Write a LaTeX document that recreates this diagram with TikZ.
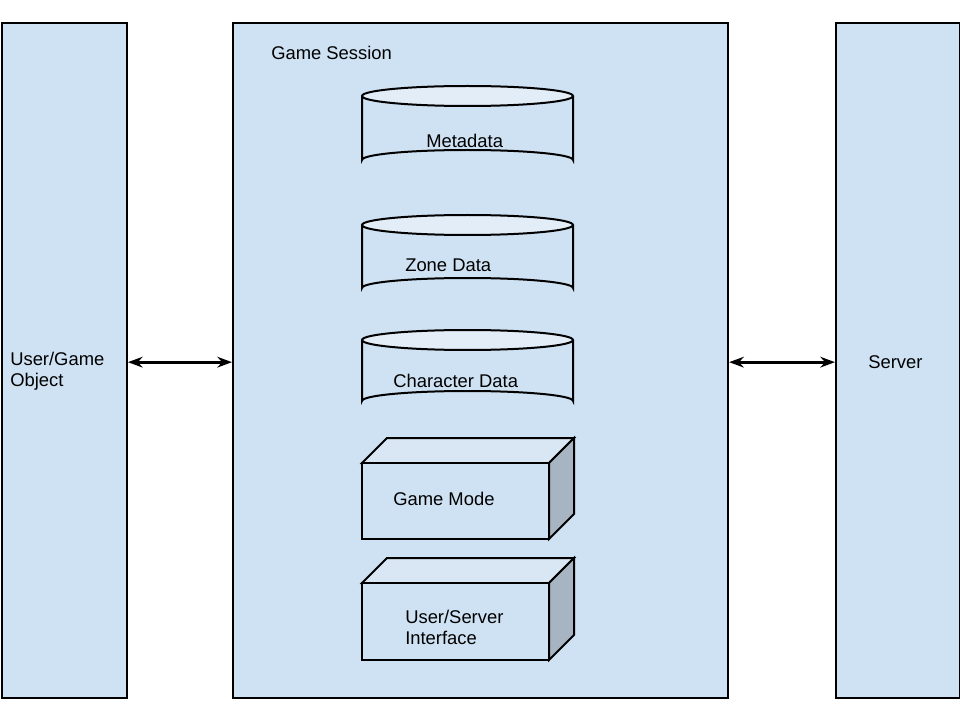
\documentclass[tikz,border=0pt]{standalone}
\usepackage{fontspec}
\setmainfont{Liberation Sans}
\usetikzlibrary{arrows.meta}
\definecolor{boxfill}{HTML}{CFE2F3}
\definecolor{capfill}{HTML}{E2EDF8}
\definecolor{sidefill}{HTML}{A7B5C3}
\definecolor{topfill}{HTML}{D9E7F5}
\tikzset{
  panel/.style={draw=black, line width=1.6pt, fill=boxfill, inner sep=0pt},
  shapeline/.style={draw=black, line width=1.5pt, line join=miter},
  lbl/.style={font=\fontsize{13.8}{15.3}\selectfont, align=left, anchor=base west, inner sep=0pt},
  link/.style={line width=2pt, {Stealth[length=11pt,width=8pt]}-{Stealth[length=11pt,width=8pt]}}
}
\begin{document}
\begin{tikzpicture}[x=0.75pt,y=-0.75pt]
\useasboundingbox (0,0) rectangle (960,720);
% panels
\node[panel, anchor=north west, minimum width=93.75pt, minimum height=506.25pt] (user) at (0.8,22) {};
\node[panel, anchor=north west, minimum width=371.25pt, minimum height=506.25pt] (session) at (232,22) {};
\node[panel, anchor=north west, minimum width=93pt, minimum height=506.25pt] (server) at (835,22) {};
\node[lbl] (usertext) at (10,386) {User/Game\\Object};
\node[lbl] (sessiontext) at (271,60) {Game Session};
\node[lbl] (servertext) at (868,368) {Server};
% cylinders
\foreach \nm/\ty/\by/\txt/\tx/\bl in {meta/96/160/Metadata/426/148, zone/225/288/Zone Data/405/272, chara/340/401/Character Data/393/387}{
  \fill[boxfill] (362,\ty) -- (362,\by) arc[start angle=180,end angle=360,x radius=105.5,y radius=10] -- (573,\ty) -- cycle;
  \draw[shapeline] (362,\ty) -- (362,\by) arc[start angle=180,end angle=360,x radius=105.5,y radius=10] -- (573,\ty);
  \draw[shapeline, fill=capfill] (467.5,\ty) ellipse[x radius=105.5, y radius=10];
  \node[lbl] (\nm) at (\tx,\bl) {\txt};
}
% cubes
\foreach \nm/\ty/\by/\txt/\tx/\bl in {mode/463/539/Game Mode/393/505, iface/583/660/{User/Server\\Interface}/405/644}{
  \draw[shapeline, fill=topfill] (362,\ty) -- (387,\ty-25) -- (574,\ty-25) -- (549,\ty) -- cycle;
  \draw[shapeline, fill=sidefill] (549,\ty) -- (574,\ty-25) -- (574,\by-25) -- (549,\by) -- cycle;
  \draw[shapeline, fill=boxfill] (362,\ty) rectangle (549,\by);
  \node[lbl] (\nm) at (\tx,\bl) {\txt};
}
% connectors
\draw[link] ([yshift=-1.2pt]user.east) -- ([yshift=-1.2pt]session.west);
\draw[link] ([yshift=-1.2pt]session.east) -- ([yshift=-1.2pt]server.west);
\end{tikzpicture}
\end{document}
